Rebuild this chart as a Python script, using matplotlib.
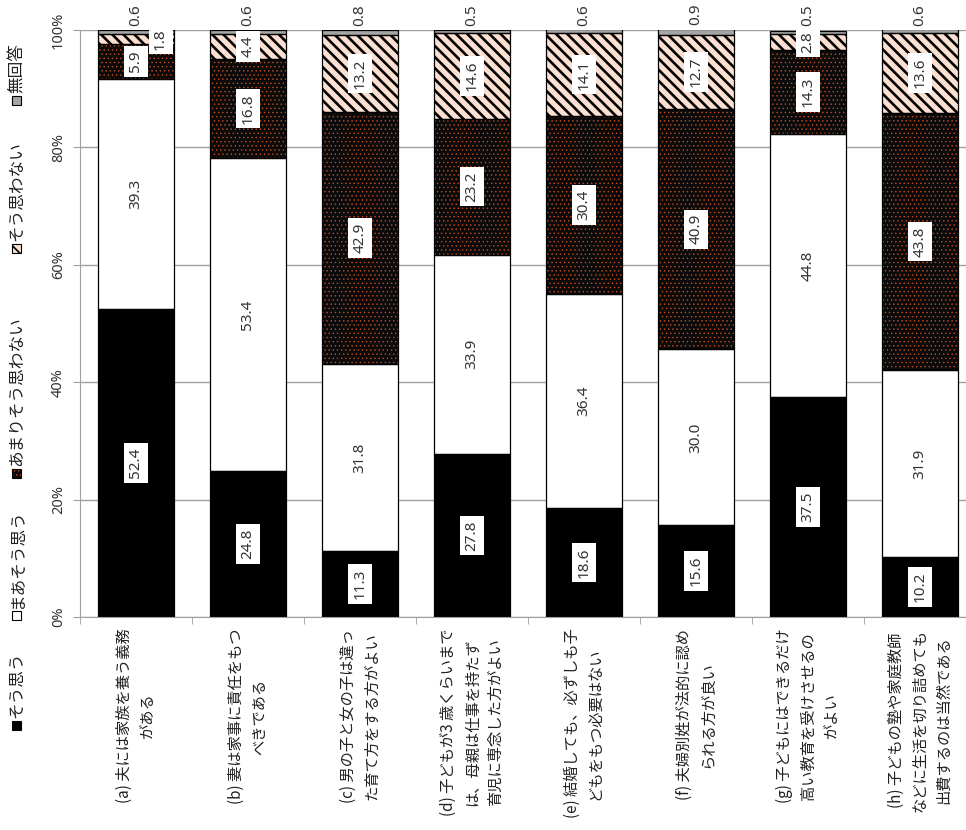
#!/usr/bin/env python3
# -*- coding: utf-8 -*-

import matplotlib
matplotlib.use('Agg')
import matplotlib.pyplot as plt
from matplotlib.patches import Rectangle
import numpy as np

plt.rcParams['font.family'] = ['Noto Sans CJK JP', 'DejaVu Sans']

categories = [
    '(a) 夫には家族を養う義務\nがある',
    '(b) 妻は家事に責任をもつ\nべきである',
    '(c) 男の子と女の子は違っ\nた育て方をする方がよい',
    '(d) 子どもが3 歳くらいまで\nは、母親は仕事を持たず\n育児に専念した方がよい',
    '(e) 結婚しても、必ずしも子\nどもをもつ必要はない',
    '(f) 夫婦別姓が法的に認め\nられる方が良い',
    '(g) 子どもにはできるだけ\n高い教育を受けさせるの\nがよい',
    '(h) 子どもの塾や家庭教師\nなどに生活を切り詰めても\n出費するのは当然である',
]
series_names = ['そう思う', 'まあそう思う', 'あまりそう思わない', 'そう思わない', '無回答']
sou_omou = [52.4, 24.8, 11.3, 27.8, 18.6, 15.6, 37.5, 10.2]
maa_sou = [39.3, 53.4, 31.8, 33.9, 36.4, 30.0, 44.8, 31.9]
amari = [5.9, 16.8, 42.9, 23.2, 30.4, 40.9, 14.3, 43.8]
omowanai = [1.8, 4.4, 13.2, 14.6, 14.1, 12.7, 2.8, 13.6]
mukaitou = [0.6, 0.6, 0.8, 0.5, 0.6, 0.9, 0.5, 0.6]
y_ticks = [0, 20, 40, 60, 80, 100]
y_tick_labels = ['0%', '20%', '40%', '60%', '80%', '100%']

# fill, hatch, hatch colour, hatch linewidth
STYLES = [
    ('black', '', 'black', 1.0),
    ('white', '', 'black', 1.0),
    ('#0b0b0b', '....', '#c44a22', 0.5),
    ('#fbe0d2', '\\\\\\', 'black', 1.9),
    ('#a6a6a6', '', 'black', 1.0),
]
BAR_W = 0.67
NUM_FONT = ['Noto Sans', 'DejaVu Sans']


def draw_bars(ax, x, values):
    bottom = np.zeros(len(x))
    for vals, (fc, hatch, hc, hlw) in zip(values, STYLES):
        with plt.rc_context({'hatch.linewidth': hlw}):
            ax.bar(x, vals, BAR_W, bottom=bottom, color=fc, hatch=hatch,
                   edgecolor=hc, linewidth=0, zorder=2)
        ax.bar(x, vals, BAR_W, bottom=bottom, fill=False,
               edgecolor='black', linewidth=0.9, zorder=3)
        bottom += np.array(vals)
    return bottom


def draw_labels(ax, x, values):
    box = dict(boxstyle='square,pad=0.3', fc='white', ec='none')
    bottom = np.zeros(len(x))
    for k, vals in enumerate(values):
        for i, v in enumerate(vals):
            xi = x[i]
            yi = bottom[i] + v / 2
            if k == 4:
                yi = 102.6
            elif k == 3 and v < 2:
                xi += 0.22
            ax.text(xi, yi, f'{v:.1f}', rotation=90, ha='center', va='center',
                    fontsize=11, family=NUM_FONT, color='#333333',
                    bbox=box if k < 4 else None, zorder=5, clip_on=False)
        bottom += np.array(vals)


def draw_legend(fig):
    H = 830.0
    W = 966.0
    bottoms = [730, 620, 478, 253, 105]
    for name, (fc, hatch, hc, hlw), yb in zip(series_names, STYLES, bottoms):
        with plt.rc_context({'hatch.linewidth': min(hlw, 1.2)}):
            fig.add_artist(Rectangle((12 / W, 1 - yb / H), 9 / W, 9 / H,
                                     transform=fig.transFigure, facecolor=fc,
                                     hatch=hatch, edgecolor=hc, linewidth=0))
        fig.add_artist(Rectangle((12 / W, 1 - yb / H), 9 / W, 9 / H,
                                 transform=fig.transFigure, fill=False,
                                 edgecolor='black', linewidth=0.8))
        fig.text(17 / W, 1 - (yb - 12) / H, name, rotation=90,
                 ha='center', va='bottom', fontsize=12, color='#222222')


def plot_chart():
    fig = plt.figure(figsize=(9.66, 8.3), dpi=100)
    ax = fig.add_axes([80 / 966, 213 / 830, 896 / 966, 587 / 830])
    x = np.arange(len(categories))
    values = [sou_omou, maa_sou, amari, omowanai, mukaitou]

    draw_bars(ax, x, values)
    draw_labels(ax, x, values)

    ax.set_xlim(-0.5, len(categories) - 0.5)
    ax.set_ylim(0, 100)
    ax.set_yticks(y_ticks)
    ax.set_yticklabels(y_tick_labels, rotation=90, va='center', fontsize=10.5,
                       family=NUM_FONT, color='#333333')
    ax.yaxis.grid(True, color='#a0a0a0', linewidth=1.0)
    ax.set_axisbelow(True)

    ax.set_xticks(x)
    ax.set_xticklabels([])
    ax.set_xticks(np.arange(len(categories) + 1) - 0.5, minor=True)
    ax.tick_params(axis='x', which='major', length=0)
    ax.tick_params(axis='x', which='minor', length=5, color='#a0a0a0')
    ax.tick_params(axis='y', length=5, color='#a0a0a0', pad=5)
    for xi, lab in zip(x, categories):
        ax.text(xi, -2.0, lab, rotation=90, ha='center', va='top',
                multialignment='center', fontsize=11, color='#222222',
                linespacing=1.5, clip_on=False)

    for s in ['top', 'right']:
        ax.spines[s].set_visible(False)
    for s in ['left', 'bottom']:
        ax.spines[s].set_color('#a0a0a0')

    draw_legend(fig)
    fig.savefig('out.png', dpi=100)


if __name__ == '__main__':
    plot_chart()
